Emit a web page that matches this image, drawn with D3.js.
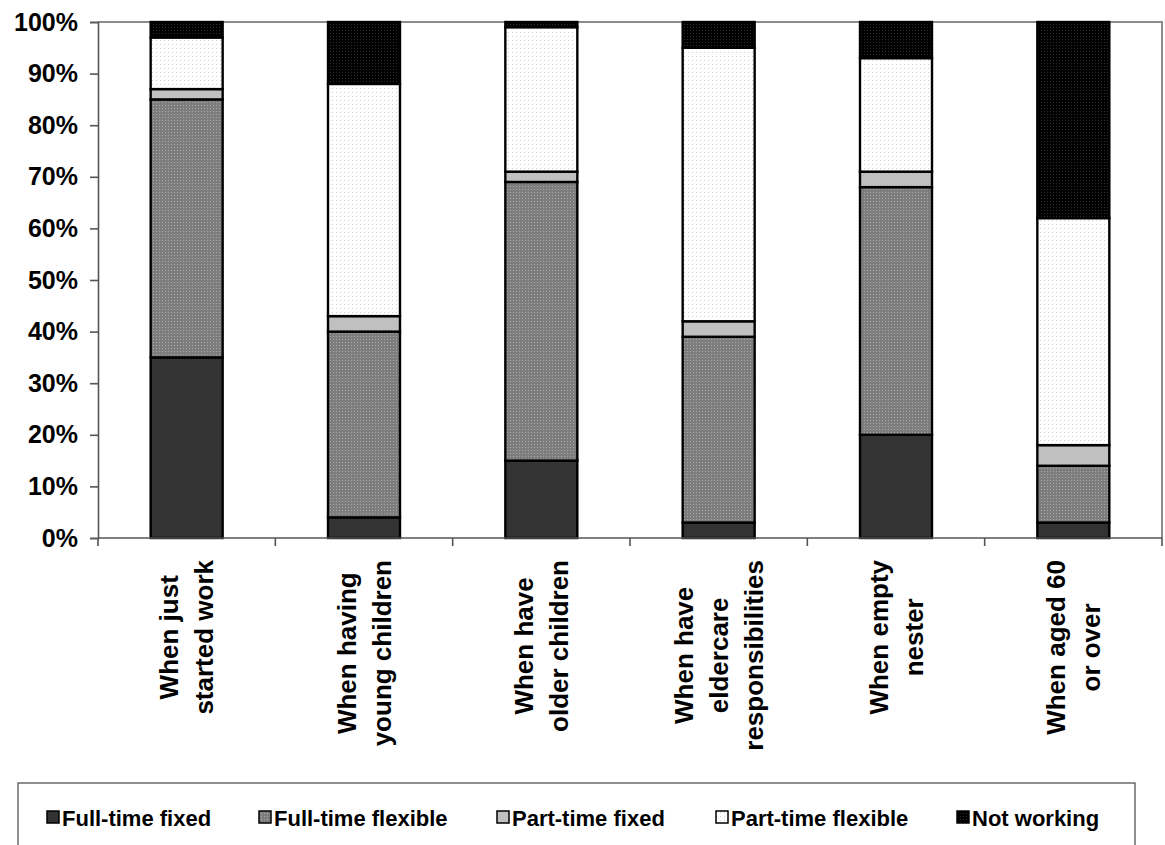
<!DOCTYPE html>
<html>
<head>
<meta charset="utf-8">
<script src="https://cdn.jsdelivr.net/npm/d3@7"></script>
<style>
  html, body { margin: 0; padding: 0; background: #ffffff; }
  svg { display: block; }
  text { font-family: Arial, "Liberation Sans", Helvetica, sans-serif; font-weight: bold; fill: #000; }
</style>
</head>
<body>
<svg id="chart" width="1165" height="845"></svg>
<script>
// Life stages (label lines) along the x axis
const stages = [
  ["When just", "started work"],
  ["When having", "young children"],
  ["When have", "older children"],
  ["When have", "eldercare", "responsibilities"],
  ["When empty", "nester"],
  ["When aged 60", "or over"]
];

// Work arrangement series, bottom to top of each stack
const seriesNames = ["Full-time fixed", "Full-time flexible", "Part-time fixed", "Part-time flexible", "Not working"];

// Share of respondents (%) per stage, one array per series
const fullTimeFixed    = [35,  4, 15,  3, 20,  3];
const fullTimeFlexible = [50, 36, 54, 36, 48, 11];
const partTimeFixed    = [ 2,  3,  2,  3,  3,  4];
const partTimeFlexible = [10, 45, 28, 53, 22, 44];
const notWorking       = [ 3, 12,  1,  5,  7, 38];

// Y axis ticks (%)
const yTicks = [0, 10, 20, 30, 40, 50, 60, 70, 80, 90, 100];

const seriesValues = [fullTimeFixed, fullTimeFlexible, partTimeFixed, partTimeFlexible, notWorking];

const svg = d3.select("#chart");

// Dotted fills
const defs = svg.append("defs");
function dotPattern(id, bg, dot, step, size) {
  const p = defs.append("pattern")
    .attr("id", id).attr("patternUnits", "userSpaceOnUse")
    .attr("width", step).attr("height", step);
  p.append("rect").attr("width", step).attr("height", step).attr("fill", bg);
  p.append("rect").attr("x", 0).attr("y", 0).attr("width", size).attr("height", size).attr("fill", dot);
  return `url(#${id})`;
}
const fills = [
  "#333333",
  dotPattern("pFtFlex", "#7d7d7d", "#a8a8a8", 3, 1),
  "#c0c0c0",
  dotPattern("pPtFlex", "#ffffff", "#d0d0d0", 4, 1),
  dotPattern("pNotWork", "#000000", "#2e2e2e", 3, 1)
];

const plot = { left: 98, right: 1162, top: 22, bottom: 538 };

const x = d3.scaleBand()
  .domain(d3.range(stages.length))
  .range([plot.left, plot.right])
  .paddingInner(0.594)
  .paddingOuter(0.297);

const y = d3.scaleLinear().domain([0, 100]).range([plot.bottom, plot.top]);

// Stack the series per stage
const rows = stages.map((s, i) => {
  const r = { idx: i };
  seriesNames.forEach((n, k) => { r[n] = seriesValues[k][i]; });
  return r;
});
const stacked = d3.stack().keys(seriesNames)(rows);

// Plot area border (top and right)
svg.append("path")
  .attr("d", `M${plot.left},${plot.top}H${plot.right}V${plot.bottom}`)
  .attr("fill", "none").attr("stroke", "#8c8c8c").attr("stroke-width", 2);

// Bars
const layers = svg.append("g").selectAll("g")
  .data(stacked).join("g")
  .attr("fill", (d, k) => fills[k]);

layers.selectAll("rect")
  .data(d => d).join("rect")
  .attr("x", d => x(d.data.idx))
  .attr("width", x.bandwidth())
  .attr("y", d => y(d[1]))
  .attr("height", d => y(d[0]) - y(d[1]))
  .attr("stroke", "#000").attr("stroke-width", 2.4);

// Y axis
const yAxis = svg.append("g")
  .attr("transform", `translate(${plot.left},0)`)
  .call(d3.axisLeft(y).tickValues(yTicks).tickFormat(d => d + "%").tickSize(8).tickPadding(12));
yAxis.select(".domain").attr("stroke", "#555").attr("stroke-width", 1.6);
yAxis.selectAll(".tick line").attr("stroke", "#555").attr("stroke-width", 1.6);
yAxis.selectAll(".tick text")
  .attr("font-size", 25).attr("font-weight", "bold")
  .attr("font-family", "Arial, 'Liberation Sans', sans-serif").attr("fill", "#000");

// X axis line and ticks between stages
const bounds = d3.range(stages.length + 1).map(i =>
  i < stages.length ? x(i) - x.step() * x.paddingInner() / 2 : plot.right);
svg.append("line")
  .attr("x1", plot.left).attr("x2", plot.right)
  .attr("y1", plot.bottom).attr("y2", plot.bottom)
  .attr("stroke", "#555").attr("stroke-width", 1.6);
svg.append("g").selectAll("line")
  .data(bounds).join("line")
  .attr("x1", d => d).attr("x2", d => d)
  .attr("y1", plot.bottom).attr("y2", plot.bottom + 8)
  .attr("stroke", "#555").attr("stroke-width", 1.6);

// Rotated stage labels: block ends just under the axis, lines centred within it
const labelTop = 560, lineH = 35, labelSize = 26;
stages.forEach((lines, i) => {
  const cx = x(i) + x.bandwidth() / 2;
  const g = svg.append("g");
  const texts = lines.map((ln, j) => g.append("text")
    .attr("font-size", labelSize)
    .attr("text-anchor", "middle")
    .attr("dy", "0.35em")
    .text(ln));
  const maxW = d3.max(texts, t => t.node().getComputedTextLength());
  const cy = labelTop + maxW / 2;
  texts.forEach((t, j) => {
    const off = (j - (lines.length - 1) / 2) * lineH;
    t.attr("transform", `translate(${cx + off},${cy}) rotate(-90)`);
  });
});

// Legend
const legendBox = { x: 18, y: 783, w: 1117, h: 100 };
svg.append("rect")
  .attr("x", legendBox.x).attr("y", legendBox.y)
  .attr("width", legendBox.w).attr("height", legendBox.h)
  .attr("fill", "none").attr("stroke", "#555").attr("stroke-width", 1.3);

const legendY = 818;
const legendSlots = [47, 259, 497, 716, 957];
seriesNames.forEach((name, k) => {
  const lx = legendSlots[k];
  const g = svg.append("g");
  g.append("rect")
    .attr("x", lx).attr("y", legendY - 7)
    .attr("width", 12).attr("height", 12)
    .attr("fill", fills[k]).attr("stroke", "#000").attr("stroke-width", 1.5);
  g.append("text")
    .attr("x", lx + 15).attr("y", legendY)
    .attr("dy", "0.35em")
    .attr("font-size", 22)
    .text(name);
});
</script>
</body>
</html>
